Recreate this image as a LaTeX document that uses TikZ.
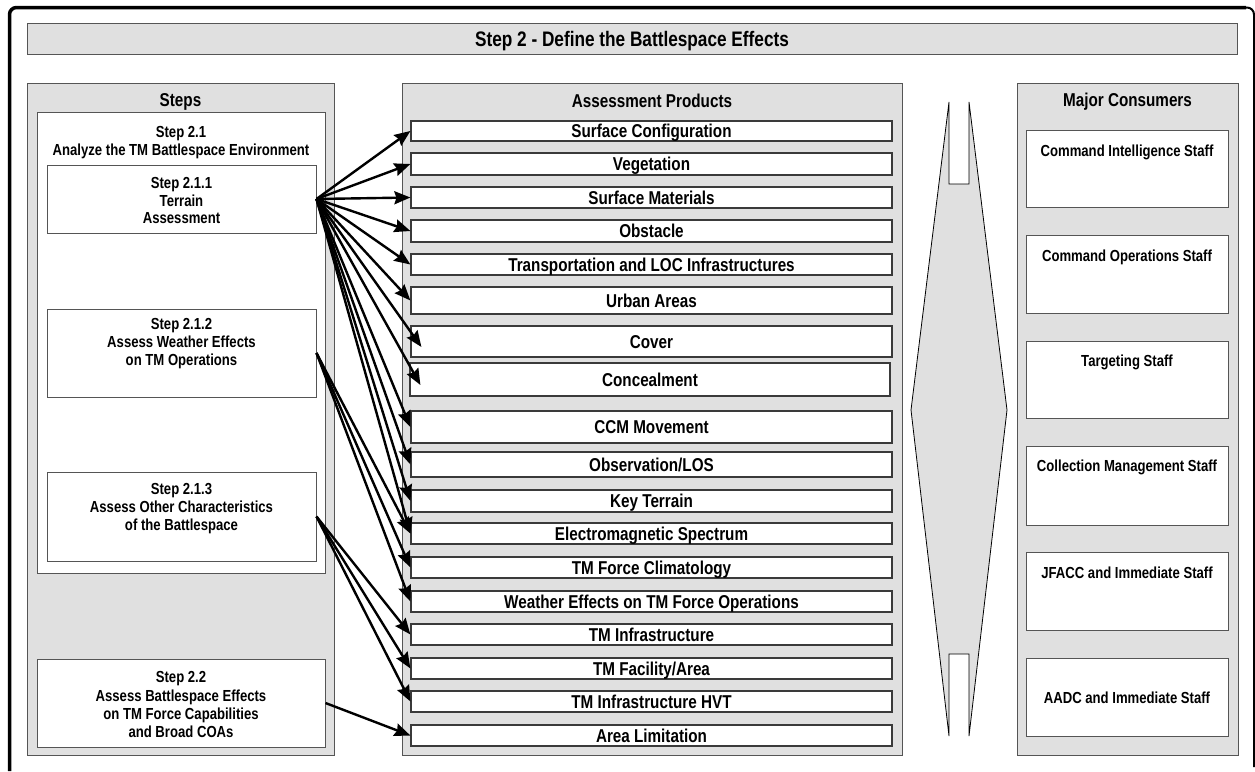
\documentclass[tikz,border=0pt]{standalone}
\usepackage{fontspec}
\setmainfont{Liberation Sans}[FakeStretch=0.82]
\usetikzlibrary{arrows.meta,calc}
\definecolor{panelgray}{HTML}{E0E0E0}
\definecolor{paneledge}{HTML}{555555}
\definecolor{boxedge}{HTML}{3A3A3A}
\newcommand\myitemfont{\fontsize{18.6}{20}\selectfont\bfseries}
\newcommand\mystepfont{\fontsize{16}{18}\selectfont\bfseries}
\newcommand\mytitlefont{\fontsize{21}{23}\selectfont\bfseries}
\begin{document}
\begin{tikzpicture}[x=1pt,y=-1pt,
  panel/.style={draw=paneledge, line width=1pt, fill=panelgray, inner sep=0pt},
  wbox/.style={draw=paneledge, line width=1pt, fill=white, inner sep=0pt},
  item/.style={draw=boxedge, line width=1.2pt, fill=white, inner sep=0pt,
    minimum width=481pt, font=\myitemfont, text height=13.3pt, text depth=0pt},
  cbox/.style={wbox, minimum width=202pt},
  head/.style={inner sep=0pt, font=\myitemfont, text height=13.3pt, text depth=0pt},
  ctext/.style={inner sep=0pt, font=\mystepfont, text height=11.5pt, text depth=0pt},
  stext/.style={inner sep=0pt, font=\mystepfont, align=center, anchor=north},
  arr/.style={-{Stealth[length=16pt,width=13pt,inset=2pt]}, line width=2.4pt, black},
  bigarrow/.style={draw=black, line width=0.8pt, fill=panelgray}
]
\useasboundingbox (0,0) rectangle (1255,771);

% outer frame
\draw[line width=3.5pt, rounded corners=7pt] (9.5,771) -- (9.5,7.5) -- (1246,7.5);
\draw[line width=2pt, rounded corners=7pt] (1238,7.5) -- (1254,7.5) -- (1254,767);

% title bar
\node[panel, minimum width=1210pt, minimum height=31pt] (title) at (632,38.5) {};
\node[inner sep=0pt, font=\mytitlefont, text height=15pt, text depth=0pt] (titletext) at (632,38.5) {Step 2 - Define the Battlespace Effects};

% panels
\node[panel, minimum width=307pt, minimum height=672pt] (steps) at (180.5,419) {};
\node[panel, minimum width=500pt, minimum height=672pt] (products) at (652,419) {};
\node[panel, minimum width=221pt, minimum height=672pt] (consumers) at (1127.5,419) {};
\node[head] (stepshead) at (180.5,100) {Steps};
\node[head] (prodhead) at (652,100.5) {Assessment Products};
\node[head] (conshead) at (1127.5,100) {Major Consumers};

% steps
\node[wbox, minimum width=288pt, minimum height=461pt] (s21) at (181,342.5) {};
\node[stext] (s21t) at (181,126) {Step 2.1\\Analyze the TM Battlespace Environment};
\node[wbox, minimum width=269pt, minimum height=68pt] (s211) at (181.5,199) {};
\node[stext, font=\fontsize{16}{17.5}\selectfont\bfseries] (s211t) at (181.5,177.5) {Step 2.1.1\\Terrain\\Assessment};
\node[wbox, minimum width=269pt, minimum height=88pt] (s212) at (181.5,353) {};
\node[stext] (s212t) at (181.5,318) {Step 2.1.2\\Assess Weather Effects\\on TM Operations};
\node[wbox, minimum width=269pt, minimum height=89pt] (s213) at (181.5,516.5) {};
\node[stext] (s213t) at (181.5,483) {Step 2.1.3\\Assess Other Characteristics\\of the Battlespace};
\node[wbox, minimum width=288pt, minimum height=88pt] (s22) at (181,703) {};
\node[stext, font=\fontsize{16}{18.3}\selectfont\bfseries] (s22t) at (181,671.5) {Step 2.2\\Assess Battlespace Effects\\on TM Force Capabilities\\and Broad COAs};

% assessment products
\node[item, minimum height=20pt] (sc) at (651.5,131) {Surface Configuration};
\node[item, minimum height=22pt] (veg) at (651.5,164) {Vegetation};
\node[item, minimum height=21pt] (sm) at (651.5,197.5) {Surface Materials};
\node[item, minimum height=22pt] (obs) at (651.5,231) {Obstacle};
\node[item, minimum height=21pt] (trans) at (651.5,264.5) {Transportation and LOC Infrastructures};
\node[item, minimum height=27pt] (urban) at (651.5,300.5) {Urban Areas};
\node[item, minimum height=31pt] (cover) at (651.5,341.5) {Cover};
\node[item, minimum height=33pt, minimum width=480pt] (conc) at (650,379.5) {Concealment};
\node[item, minimum height=32pt] (ccm) at (651.5,427) {CCM Movement};
\node[item, minimum height=25pt] (los) at (651.5,464.5) {Observation/LOS};
\node[item, minimum height=22pt] (key) at (651.5,501) {Key Terrain};
\node[item, minimum height=21pt] (em) at (651.5,533.5) {Electromagnetic Spectrum};
\node[item, minimum height=21pt] (clim) at (651.5,567.5) {TM Force Climatology};
\node[item, minimum height=21pt] (weather) at (651.5,601.5) {Weather Effects on TM Force Operations};
\node[item, minimum height=21pt] (tminf) at (651.5,634.5) {TM Infrastructure};
\node[item, minimum height=21pt] (tmfac) at (651.5,668.5) {TM Facility/Area};
\node[item, minimum height=21pt] (hvt) at (651.5,701.5) {TM Infrastructure HVT};
\node[item, minimum height=21pt] (area) at (651.5,735.5) {Area Limitation};

% big double-headed arrow
\draw[bigarrow] (949,102) -- (949,184) -- (969,184) -- (969,102) -- (1007,410)
  -- (969,736) -- (969,654) -- (949,654) -- (949,736) -- (911,410) -- cycle;

% consumers
\node[cbox, minimum height=77pt] (cis) at (1127,168.5) {};
\node[ctext] (cist) at (1127,151) {Command Intelligence Staff};
\node[cbox, minimum height=78pt] (cos) at (1127,274) {};
\node[ctext] (cost) at (1127,256) {Command Operations Staff};
\node[cbox, minimum height=77pt] (ts) at (1127,379.5) {};
\node[ctext] (tst) at (1127,361) {Targeting Staff};
\node[cbox, minimum height=79pt] (cms) at (1127,485.5) {};
\node[ctext] (cmst) at (1127,466) {Collection Management Staff};
\node[cbox, minimum height=78pt] (jf) at (1127,591) {};
\node[ctext] (jft) at (1127,573) {JFACC and Immediate Staff};
\node[cbox, minimum height=78pt] (aadc) at (1127,697) {};
\node[ctext] (aadct) at (1127,698) {AADC and Immediate Staff};

% connectors
\foreach \t in {sc,veg,sm,obs,trans,urban,ccm,los,key,em}
  \draw[arr] (s211.east) -- (\t.west);
\draw[arr] (s211.east) -- ($(cover.west)+(11,5.5)$);
\draw[arr] (s211.east) -- ($(conc.west)+(11,5.5)$);
\foreach \t in {em,clim,weather}
  \draw[arr] (s212.east) -- (\t.west);
\foreach \t in {tminf,tmfac,hvt}
  \draw[arr] (s213.east) -- (\t.west);
\draw[arr] (s22.east) -- (area.west);
\end{tikzpicture}
\end{document}
